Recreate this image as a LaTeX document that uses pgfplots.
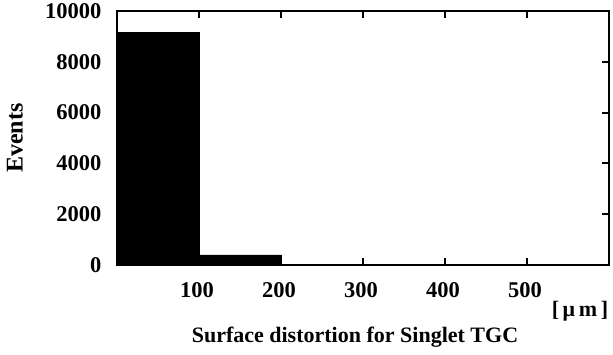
\documentclass[border=0pt]{standalone}
\usepackage{fontspec}
\setmainfont{Liberation Serif}
\usepackage{pgfplots}
\pgfplotsset{compat=1.18}
\begin{document}
\begin{tikzpicture}
\begin{axis}[
  scale only axis=true,
  width=492pt, height=254pt,
  xmin=0, xmax=600, ymin=0, ymax=10000,
  xtick={100,200,300,400,500},
  ytick={0,2000,4000,6000,8000,10000},
  tick align=inside,
  xtick pos=both, ytick pos=both,
  major tick length=7pt,
  axis line style={line width=2.2pt},
  every tick/.style={line width=2pt, black},
  /pgf/number format/assume math mode=true,
  /pgf/number format/set thousands separator={},
  tick label style={font=\fontsize{22.5}{26}\selectfont\bfseries},
  xticklabel style={yshift=-14pt, xshift=-2pt},
  yticklabel style={xshift=-12pt},
  scaled y ticks=false,
  clip=false,
  xlabel={Surface distortion for Singlet TGC},
  ylabel={Events},
  label style={font=\fontsize{22}{26}\selectfont\bfseries},
  xlabel style={at={(rel axis cs:0.4837,-0.2835)}, anchor=center},
  ylabel style={at={(rel axis cs:-0.2073,0.5)}, anchor=center, font=\fontsize{24}{28}\selectfont\bfseries},
]
\addplot[ybar interval, fill=black, draw=black, line width=0.5pt]
  coordinates {(0,9170) (100,400) (200,15) (300,0) (400,0) (500,0) (600,0)};
\node[font=\fontsize{22}{26}\selectfont\bfseries] at (rel axis cs:0.941,-0.181) {[\,μ\,m\,]};
\path (rel axis cs:-0.2378,-0.3504) rectangle (rel axis cs:1.0081,1.0433);
\end{axis}
\end{tikzpicture}
\end{document}
